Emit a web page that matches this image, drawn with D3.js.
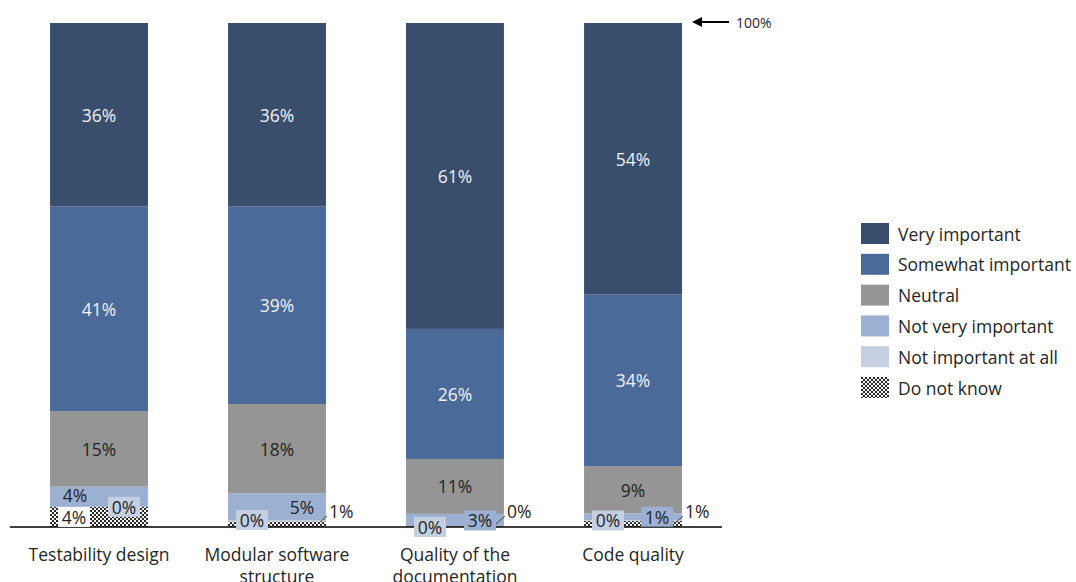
<!DOCTYPE html>
<html>
<head>
<meta charset="utf-8">
<script src="https://cdn.jsdelivr.net/npm/d3@7"></script>
<style>
  html, body { margin: 0; padding: 0; background: #fff; }
  svg { display: block; font-family: "Open Sans", "Noto Sans", sans-serif; }
</style>
</head>
<body>
<svg id="chart" width="1076" height="582"></svg>
<script>
// Survey categories (x axis)
const categories = [
  ["Testability design"],
  ["Modular software", "structure"],
  ["Quality of the", "documentation"],
  ["Code quality"]
];

// Answer levels, stacked from the bottom of each column upward
const levels = ["Do not know", "Not important at all", "Not very important", "Neutral", "Somewhat important", "Very important"];

// Share of answers (%) per level, one entry per category
const doNotKnow        = [4.0, 1.1, 0.0, 1.2];
const notImportantAll  = [0.0, 0.2, 0.0, 0.2];
const notVeryImportant = [4.0, 5.4, 2.6, 1.3];
const neutral          = [15.0, 17.7, 10.9, 9.4];
const somewhat         = [40.6, 39.2, 25.8, 34.0];
const veryImportant    = [36.4, 36.4, 60.7, 53.9];

const seriesValues = [doNotKnow, notImportantAll, notVeryImportant, neutral, somewhat, veryImportant];

// Legend order (top to bottom)
const legendOrder = ["Very important", "Somewhat important", "Neutral", "Not very important", "Not important at all", "Do not know"];

const colors = {
  "Very important": "#394d6d",
  "Somewhat important": "#4a6a9a",
  "Neutral": "#959595",
  "Not very important": "#9cb0d2",
  "Not important at all": "#c4cfe2",
  "Do not know": "url(#checker)"
};

// How the small-segment labels are placed: dx/dy offset from the segment centre,
// optional box fill, or a leader line out to the right of the column
const smallLabelStyle = [
  // Testability design
  { "Do not know": { dx: -25, box: "#ffffff" }, "Not important at all": { dx: 25, box: "#c4cfe2" }, "Not very important": { dx: -24, dy: -1.5 } },
  // Modular software structure
  { "Do not know": { leader: true }, "Not important at all": { dx: -25, dy: -1, box: "#c4cfe2" }, "Not very important": { dx: 25 } },
  // Quality of the documentation
  { "Do not know": { leader: true }, "Not important at all": { dx: -25, box: "#c4cfe2" }, "Not very important": { dx: 25, box: "#9cb0d2" } },
  // Code quality
  { "Do not know": { leader: true }, "Not important at all": { dx: -25, box: "#c4cfe2" }, "Not very important": { dx: 24, box: "#9cb0d2" } }
];

const svg = d3.select("#chart");
const defs = svg.append("defs");
const pat = defs.append("pattern")
  .attr("id", "checker").attr("width", 4).attr("height", 4)
  .attr("patternUnits", "userSpaceOnUse");
pat.append("rect").attr("width", 4).attr("height", 4).attr("fill", "#f4f4f4");
pat.append("rect").attr("width", 2).attr("height", 2).attr("fill", "#2a2a2a");
pat.append("rect").attr("x", 2).attr("y", 2).attr("width", 2).attr("height", 2).attr("fill", "#2a2a2a");

const x = d3.scaleBand()
  .domain(d3.range(categories.length))
  .range([10, 722])
  .paddingInner(0.45)
  .paddingOuter(0.225);

const y = d3.scaleLinear().domain([0, 100]).range([527, 23]);

// Build stacked rows
const rows = categories.map((c, i) => {
  const r = { idx: i };
  levels.forEach((lv, k) => r[lv] = seriesValues[k][i]);
  return r;
});
const stacked = d3.stack().keys(levels)(rows);

const fontSize = 17.5;

const gBars = svg.append("g");
stacked.forEach(layer => {
  gBars.append("g")
    .selectAll("rect")
    .data(layer)
    .join("rect")
    .attr("x", d => x(d.data.idx))
    .attr("width", x.bandwidth())
    .attr("y", d => y(d[1]))
    .attr("height", d => y(d[0]) - y(d[1]))
    .attr("fill", colors[layer.key]);
});

// Axis baseline
svg.append("line")
  .attr("x1", x.range()[0]).attr("x2", x.range()[1])
  .attr("y1", y(0)).attr("y2", y(0))
  .attr("stroke", "#000").attr("stroke-width", 1.5);

// Value labels
const gLab = svg.append("g").attr("font-size", fontSize);
stacked.forEach(layer => {
  layer.forEach(d => {
    const i = d.data.idx;
    const v = d.data[layer.key];
    const txt = Math.round(v) + "%";
    const cx = x(i) + x.bandwidth() / 2;
    const cy = (y(d[0]) + y(d[1])) / 2;
    const style = smallLabelStyle[i][layer.key];
    if (!style) {
      const dark = layer.key === "Very important" || layer.key === "Somewhat important";
      gLab.append("text")
        .attr("x", cx).attr("y", cy)
        .attr("text-anchor", "middle").attr("dominant-baseline", "central")
        .attr("fill", dark ? "#f2f2f2" : "#262626")
        .text(txt);
      return;
    }
    if (style.leader) {
      const right = x(i) + x.bandwidth();
      const y0 = y(0);
      gLab.append("line")
        .attr("x1", right - 9).attr("y1", y0 - 2)
        .attr("x2", right + 1).attr("y2", y0 - 11)
        .attr("stroke", "#404040").attr("stroke-width", 1);
      gLab.append("text")
        .attr("x", right + 3).attr("y", y0 - 16)
        .attr("text-anchor", "start").attr("dominant-baseline", "central")
        .attr("fill", "#262626")
        .text(txt);
      return;
    }
    const lx = cx + (style.dx || 0);
    const ly = cy + (style.dy || 0);
    if (style.box) {
      gLab.append("rect")
        .attr("x", lx - 16).attr("y", ly - 10)
        .attr("width", 32).attr("height", 20)
        .attr("fill", style.box);
    }
    gLab.append("text")
      .attr("x", lx).attr("y", ly)
      .attr("text-anchor", "middle").attr("dominant-baseline", "central")
      .attr("fill", "#262626")
      .text(txt);
  });
});

// Category labels
const gCat = svg.append("g").attr("font-size", fontSize).attr("fill", "#262626");
categories.forEach((lines, i) => {
  const t = gCat.append("text")
    .attr("x", x(i) + x.bandwidth() / 2)
    .attr("y", 561)
    .attr("text-anchor", "middle");
  lines.forEach((ln, k) => {
    t.append("tspan")
      .attr("x", x(i) + x.bandwidth() / 2)
      .attr("dy", k === 0 ? 0 : 22)
      .text(ln);
  });
});

// 100% marker
const topY = y(100) - 1;
defs.append("marker")
  .attr("id", "arrowhead").attr("viewBox", "0 0 10 10")
  .attr("refX", 1).attr("refY", 5)
  .attr("markerWidth", 5).attr("markerHeight", 5)
  .attr("orient", "auto-start-reverse")
  .append("path").attr("d", "M0,0 L10,5 L0,10 z").attr("fill", "#000");
svg.append("line")
  .attr("x1", 729).attr("x2", 701)
  .attr("y1", topY).attr("y2", topY)
  .attr("stroke", "#000").attr("stroke-width", 2)
  .attr("marker-end", "url(#arrowhead)");
svg.append("text")
  .attr("x", 736).attr("y", topY)
  .attr("dominant-baseline", "central")
  .attr("font-size", 14).attr("fill", "#262626")
  .text("100%");

// Legend
const legend = svg.append("g").attr("transform", "translate(861,223)");
legendOrder.forEach((lv, k) => {
  const g = legend.append("g").attr("transform", `translate(0,${k * 30.8})`);
  g.append("rect").attr("width", 28).attr("height", 21).attr("fill", colors[lv]);
  g.append("text")
    .attr("x", 37).attr("y", 10.5)
    .attr("dominant-baseline", "central")
    .attr("font-size", fontSize).attr("fill", "#262626")
    .text(lv);
});
</script>
</body>
</html>
